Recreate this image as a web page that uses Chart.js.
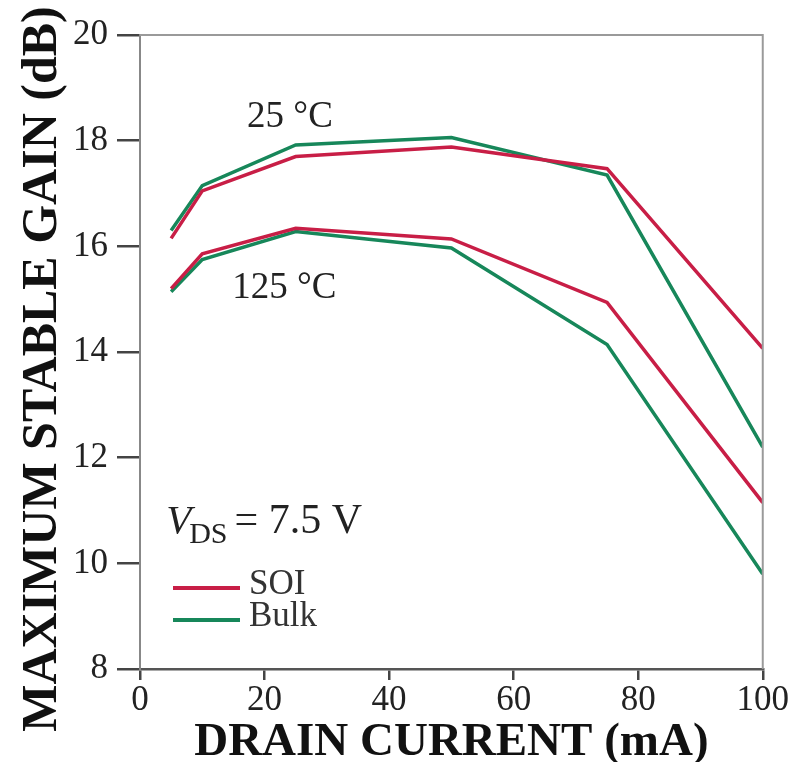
<!DOCTYPE html>
<html>
<head>
<meta charset="utf-8">
<script src="https://cdn.jsdelivr.net/npm/chart.js@4.4.1/dist/chart.umd.min.js"></script>
<style>
  html, body { margin: 0; padding: 0; background: #fff; }
  #wrap { width: 789px; height: 762px; }
</style>
</head>
<body>
<div id="wrap"><canvas id="gainChart" width="789" height="762"></canvas></div>
<script>
// drain current (mA) and maximum stable gain (dB)
const current = [5, 10, 25, 50, 75, 100];
const soi25 = [16.15, 17.05, 17.70, 17.88, 17.47, 14.07];
const bulk25 = [16.30, 17.15, 17.92, 18.06, 17.35, 12.20];
const soi125 = [15.20, 15.86, 16.34, 16.14, 14.94, 11.15];
const bulk125 = [15.14, 15.75, 16.28, 15.97, 14.14, 9.80];

const xTicks = [0, 20, 40, 60, 80, 100];
const yTicks = [8, 10, 12, 14, 16, 18, 20];

const RED = '#c81e46';
const GREEN = '#17875a';
const SERIF = '"Liberation Serif", "Times New Roman", serif';

function pts(ys) {
  return current.map((x, i) => ({ x: x, y: ys[i] }));
}

function series(label, ys, color) {
  return {
    label: label,
    data: pts(ys),
    borderColor: color,
    backgroundColor: color,
    borderWidth: 3.5,
    pointRadius: 0,
    tension: 0,
    fill: false
  };
}

// frame, annotations, legend and y title
const extras = {
  id: 'extras',
  afterDraw(chart) {
    const ctx = chart.ctx;
    const a = chart.chartArea;
    const xs = chart.scales.x;
    const ys = chart.scales.y;
    ctx.save();

    // top and right frame
    ctx.strokeStyle = '#9a9a9a';
    ctx.lineWidth = 2;
    ctx.beginPath();
    ctx.moveTo(a.left, a.top);
    ctx.lineTo(a.right, a.top);
    ctx.lineTo(a.right, a.bottom);
    ctx.stroke();

    ctx.fillStyle = '#222';
    ctx.textBaseline = 'alphabetic';
    ctx.textAlign = 'left';
    ctx.font = '37px ' + SERIF;
    ctx.fillText('25 \u00b0C', xs.getPixelForValue(17.2), ys.getPixelForValue(18.26));
    ctx.fillText('125 \u00b0C', xs.getPixelForValue(14.8), ys.getPixelForValue(15.03));

    // V_DS label
    let vx = xs.getPixelForValue(4.2);
    const vy = ys.getPixelForValue(10.58);
    ctx.font = 'italic 41px ' + SERIF;
    ctx.fillText('V', vx, vy);
    vx += ctx.measureText('V').width - 2;
    ctx.font = '30px ' + SERIF;
    ctx.fillText('DS', vx, vy + 10);
    vx += ctx.measureText('DS').width + 7;
    ctx.font = '42px ' + SERIF;
    ctx.fillText('= 7.5 V', vx, vy);

    // legend
    const items = [chart.data.datasets[0], chart.data.datasets[1]];
    const lx0 = 173, lx1 = 240;
    const rows = [588, 620];
    ctx.font = '35px ' + SERIF;
    ctx.textBaseline = 'middle';
    ctx.fillStyle = '#333';
    items.forEach((ds, i) => {
      ctx.strokeStyle = ds.borderColor;
      ctx.lineWidth = 4;
      ctx.beginPath();
      ctx.moveTo(lx0, rows[i]);
      ctx.lineTo(lx1, rows[i]);
      ctx.stroke();
      ctx.fillText(ds.label.split(' ')[0], 249, rows[i] - 3);
    });

    // y axis title
    ctx.translate(43, 369);
    ctx.rotate(-Math.PI / 2);
    ctx.textAlign = 'center';
    ctx.textBaseline = 'middle';
    ctx.fillStyle = '#111';
    ctx.font = 'bold 50px ' + SERIF;
    ctx.fillText('MAXIMUM STABLE GAIN (dB)', 0, 0);
    ctx.restore();
  }
};

new Chart(document.getElementById('gainChart').getContext('2d'), {
  type: 'line',
  data: {
    datasets: [
      series('SOI 25', soi25, RED),
      series('Bulk 25', bulk25, GREEN),
      series('SOI 125', soi125, RED),
      series('Bulk 125', bulk125, GREEN)
    ]
  },
  options: {
    responsive: false,
    animation: false,
    layout: { padding: { top: 35, right: 26, left: 0, bottom: 0 } },
    plugins: {
      legend: { display: false },
      tooltip: { enabled: false }
    },
    scales: {
      x: {
        type: 'linear',
        min: 0,
        max: 100,
        afterBuildTicks: s => { s.ticks = xTicks.map(v => ({ value: v })); },
        afterFit: s => { s.height = 93; },
        grid: { drawOnChartArea: false, drawTicks: true, tickLength: 11, color: '#444', lineWidth: 2.5 },
        border: { display: true, color: '#555', width: 2.5 },
        ticks: { color: '#222', padding: 0, font: { family: SERIF, size: 35 } },
        title: {
          display: true,
          text: 'DRAIN CURRENT (mA)',
          color: '#111',
          padding: { top: 0, bottom: 0 },
          font: { family: SERIF, size: 47, weight: 'bold', lineHeight: 0.8 }
        }
      },
      y: {
        type: 'linear',
        min: 8,
        max: 20,
        afterBuildTicks: s => { s.ticks = yTicks.map(v => ({ value: v })); },
        afterFit: s => { s.width = 140; },
        grid: { drawOnChartArea: false, drawTicks: true, tickLength: 23, color: '#444', lineWidth: 2.5 },
        border: { display: true, color: '#888', width: 2 },
        ticks: { color: '#222', padding: 9, font: { family: SERIF, size: 35 } }
      }
    }
  },
  plugins: [extras]
});
</script>
</body>
</html>
